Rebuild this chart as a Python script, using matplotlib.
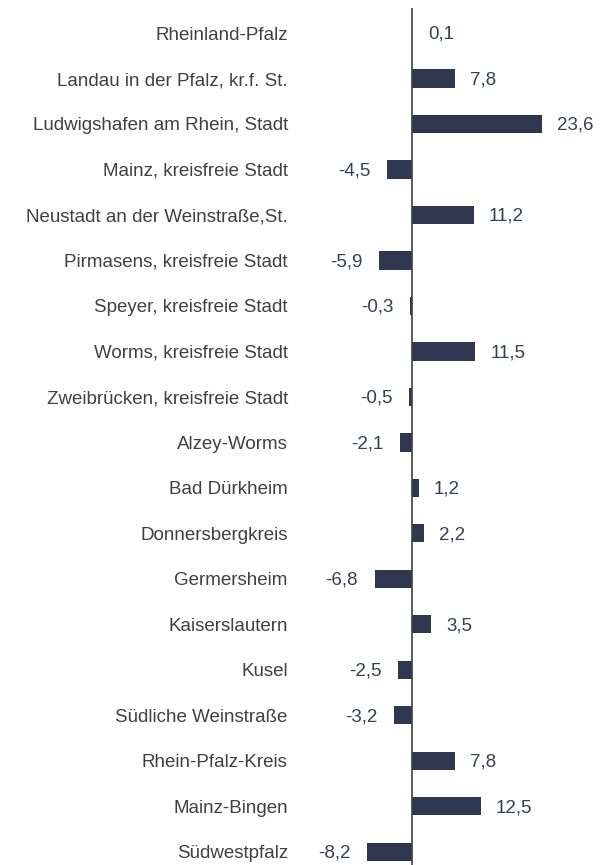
import matplotlib.pyplot as plt

regions = [
    "Rheinland-Pfalz",
    "Landau in der Pfalz, kr.f. St.",
    "Ludwigshafen am Rhein, Stadt",
    "Mainz, kreisfreie Stadt",
    "Neustadt an der Weinstraße,St.",
    "Pirmasens, kreisfreie Stadt",
    "Speyer, kreisfreie Stadt",
    "Worms, kreisfreie Stadt",
    "Zweibrücken, kreisfreie Stadt",
    "Alzey-Worms",
    "Bad Dürkheim",
    "Donnersbergkreis",
    "Germersheim",
    "Kaiserslautern",
    "Kusel",
    "Südliche Weinstraße",
    "Rhein-Pfalz-Kreis",
    "Mainz-Bingen",
    "Südwestpfalz",
]
values = [0.1, 7.8, 23.6, -4.5, 11.2, -5.9, -0.3, 11.5, -0.5, -2.1,
          1.2, 2.2, -6.8, 3.5, -2.5, -3.2, 7.8, 12.5, -8.2]

BAR_COLOR = "#2f3850"
LABEL_COLOR = "#404040"
VALUE_COLOR = "#3a3f50"
FS = 13.5

plt.rcParams['font.family'] = ['Liberation Sans', 'DejaVu Sans']

fig = plt.figure(figsize=(6.1, 8.65), dpi=100)
ax = fig.add_axes([0.49, 0.0, 0.51, (865 - 8) / 865])

pos = list(range(len(regions)))
ax.barh(pos, values, height=0.4, color=BAR_COLOR)

for y, v in zip(pos, values):
    txt = f"{v:.1f}".replace(".", ",")
    if v >= 0:
        ax.annotate(txt, (v, y), xytext=(11, -1), textcoords="offset points",
                    ha="left", va="center", fontsize=FS, color=VALUE_COLOR)
    else:
        ax.annotate(txt, (v, y), xytext=(-12, -1), textcoords="offset points",
                    ha="right", va="center", fontsize=FS, color=VALUE_COLOR)

ax.axvline(0, color="#404040", linewidth=1.2)

ax.set_xlim(-(412 - 299) / 5.5, (610 - 412) / 5.5)
ax.set_ylim(len(regions) - 1 + 0.29, -0.55)
ax.set_yticks(pos)
ax.set_yticklabels(regions, fontsize=FS, color=LABEL_COLOR)
ax.tick_params(axis="y", length=0, pad=8)
ax.set_xticks([])
for s in ax.spines.values():
    s.set_visible(False)

plt.savefig("out.png", dpi=100)
